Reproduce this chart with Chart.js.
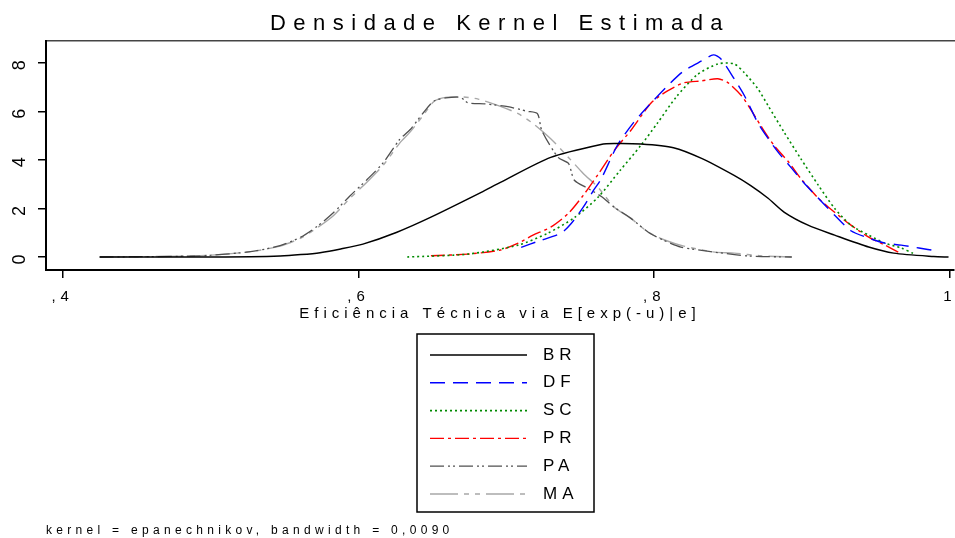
<!DOCTYPE html>
<html><head><meta charset="utf-8">
<script src="https://cdn.jsdelivr.net/npm/chart.js@4/dist/chart.umd.min.js"></script>
<style>html,body{margin:0;padding:0;background:#fff}#wrap{width:955px;height:538px}</style>
</head><body><div id="wrap"><canvas id="c" width="955" height="538"></canvas></div>
<script>
const seriesNames = ['BR','DF','SC','PR','PA','MA'];
const brX = [0.425,0.493,0.527,0.547,0.561,0.574,0.588,0.603,0.626,0.649,0.683,0.696,0.730,0.764,0.773,0.791,0.813,0.832,0.854,0.865,0.877,0.888,0.904,0.922,0.945,0.962,0.989,0.999];
const brY = [0,0,0.01,0.04,0.10,0.18,0.33,0.53,1.02,1.64,2.66,3.07,4.10,4.63,4.67,4.65,4.50,4.06,3.36,2.95,2.42,1.84,1.31,0.90,0.41,0.16,0.02,0];
const dfX = [0.710,0.723,0.737,0.744,0.752,0.759,0.764,0.775,0.786,0.798,0.809,0.820,0.832,0.840,0.845,0.854,0.861,0.870,0.877,0.884,0.893,0.901,0.911,0.922,0.933,0.945,0.956,0.967,0.979,0.991];
const dfY = [0.40,0.68,0.98,1.39,2.05,2.75,3.20,4.59,5.53,6.35,7.05,7.66,8.07,8.32,8.16,7.34,6.64,5.53,4.88,4.30,3.65,3.07,2.42,1.72,1.08,0.78,0.57,0.49,0.37,0.25];
const scX = [0.633,0.674,0.708,0.728,0.746,0.762,0.777,0.791,0.802,0.815,0.829,0.843,0.854,0.861,0.870,0.877,0.888,0.899,0.911,0.922,0.933,0.945,0.956,0.967,0.975];
const scY = [0,0.12,0.49,0.98,1.62,2.46,3.57,4.60,5.50,6.60,7.50,7.95,7.95,7.58,6.93,6.23,5.12,4.06,2.95,2.00,1.31,0.90,0.57,0.37,0.15];
const prX = [0.649,0.674,0.696,0.708,0.718,0.730,0.742,0.752,0.762,0.773,0.784,0.798,0.809,0.820,0.832,0.843,0.850,0.859,0.865,0.872,0.881,0.891,0.899,0.911,0.922,0.933,0.945,0.956,0.965];
const prY = [0.05,0.12,0.29,0.57,0.90,1.23,1.80,2.54,3.40,4.39,5.20,6.35,6.84,7.17,7.25,7.34,7.17,6.64,6.10,5.41,4.59,3.90,3.24,2.42,1.84,1.31,0.82,0.49,0.20];
const paX = [0.425,0.493,0.527,0.547,0.561,0.572,0.583,0.594,0.606,0.617,0.628,0.635,0.644,0.651,0.659,0.669,0.674,0.686,0.701,0.714,0.721,0.724,0.735,0.742,0.746,0.755,0.764,0.773,0.784,0.796,0.806,0.818,0.841,0.864,0.893];
const paY = [0,0.05,0.22,0.47,0.82,1.26,1.82,2.50,3.20,3.90,4.85,5.25,5.95,6.42,6.55,6.57,6.35,6.30,6.19,6.00,5.90,5.20,4.10,3.85,3.16,2.83,2.50,2.05,1.60,1.02,0.70,0.41,0.20,0.04,0];
const maX = [0.425,0.493,0.527,0.547,0.561,0.572,0.583,0.594,0.606,0.617,0.628,0.635,0.644,0.651,0.659,0.669,0.681,0.696,0.708,0.718,0.730,0.742,0.752,0.762,0.773,0.784,0.796,0.807,0.820,0.841,0.854,0.872,0.893];
const maY = [0,0.05,0.22,0.45,0.78,1.20,1.70,2.40,3.10,3.80,4.70,5.15,5.85,6.40,6.57,6.60,6.50,6.20,5.90,5.50,4.87,4.10,3.44,2.87,2.05,1.60,1.02,0.70,0.45,0.20,0.16,0.05,0];
const xTickValues = [0.4,0.6,0.8,1.0];
const xTickLabels = [',4',',6',',8','1'];
const yTickValues = [0,2,4,6,8];
const yTickLabels = ['0','2','4','6','8'];
const titleText = 'Densidade Kernel Estimada';
const xTitleText = 'Eficiência Técnica via E[exp(-u)|e]';
const noteText = 'kernel = epanechnikov, bandwidth = 0,0090';

const FONT = '"Liberation Sans", Arial, sans-serif';
const seriesX = [brX, dfX, scX, prX, paX, maX];
const seriesY = [brY, dfY, scY, prY, paY, maY];
const colors = ['#000000','#0000ff','#008a00','#ff0000','#505050','#a8a8a8'];
const dashes = [[], [15,8], [2,3], [14,4,3,4], [14,4,2,3,2,4], [28,6,5,6,5,6]];
const widths = [1.5,1.4,1.6,1.4,1.3,1.4];

const datasets = seriesNames.map((n, i) => ({
  label: n,
  data: seriesX[i].map((x, j) => ({x: x, y: seriesY[i][j]})),
  borderColor: colors[i],
  borderDash: dashes[i],
  borderWidth: widths[i],
  pointRadius: 0,
  tension: 0.25,
  fill: false
}));

function wrapSpacing(chart, box, sp) {
  if (!box || box._wrapped) return;
  const orig = box.draw.bind(box);
  box.draw = function(a) { const c = chart.ctx; c.save(); c.letterSpacing = sp; orig(a); c.restore(); };
  box._wrapped = true;
}

const spacingPlugin = {
  id: 'spacing',
  beforeDraw(chart) {
    chart.ctx.letterSpacing = '5px';
    wrapSpacing(chart, chart.titleBlock, '7.5px');
    const sub = chart.boxes.find(b => b !== chart.titleBlock && b.options && b.options.text === noteText);
    wrapSpacing(chart, sub, '4.3px');
  }
};

const legendPlugin = {
  id: 'boxLegend',
  afterDraw(chart) {
    const ctx = chart.ctx;
    ctx.save();
    ctx.letterSpacing = '5px';
    ctx.setLineDash([]);
    ctx.strokeStyle = '#000';
    ctx.lineWidth = 1.5;
    ctx.strokeRect(417, 334, 177, 178);
    chart.data.datasets.forEach((ds, i) => {
      const y = 355 + i * 27.8;
      ctx.beginPath();
      ctx.setLineDash(ds.borderDash || []);
      ctx.strokeStyle = ds.borderColor;
      ctx.lineWidth = ds.borderWidth;
      ctx.moveTo(430, y); ctx.lineTo(527, y);
      ctx.stroke();
      ctx.setLineDash([]);
      ctx.fillStyle = '#000';
      ctx.font = '17px ' + FONT;
      ctx.textBaseline = 'middle';
      ctx.textAlign = 'left';
      ctx.fillText(ds.label, 543, y);
    });
    ctx.restore();
  }
};

new Chart(document.getElementById('c'), {
  type: 'line',
  data: { datasets: datasets },
  plugins: [spacingPlugin, legendPlugin],
  options: {
    responsive: false,
    devicePixelRatio: 1,
    animation: false,
    layout: { padding: { left: 0, right: 1, top: 0, bottom: 0 } },
    plugins: {
      legend: { display: false },
      tooltip: { enabled: false },
      title: { display: true, text: titleText, color: '#000', fullSize: false,
        font: { family: FONT, size: 22, weight: 'normal' }, padding: { top: 11, bottom: 3.6 } },
      subtitle: { display: true, text: noteText, color: '#000', position: 'bottom', align: 'start', fullSize: false,
        font: { family: FONT, size: 12, weight: 'normal' }, padding: { top: 0, bottom: 0 } }
    },
    scales: {
      x: {
        type: 'linear', position: 'bottom', min: 0.3887, max: 1.0027,
        afterBuildTicks: (s) => { s.ticks = xTickValues.map(v => ({ value: v })); },
        afterFit: (s) => { s.height = 253.6; s.paddingLeft = 0; s.paddingRight = 0; },
        ticks: { color: '#000', font: { family: FONT, size: 15 }, padding: 10, maxRotation: 0,
          callback: (v, i) => xTickLabels[i] },
        grid: { display: true, drawOnChartArea: false, drawTicks: true, tickLength: 8, color: '#000', lineWidth: 1.5 },
        border: { display: true, color: '#000', width: 2 },
        title: { display: true, text: xTitleText, color: '#000', font: { family: FONT, size: 15 }, padding: { top: 0, bottom: 200.9 } }
      },
      x2: {
        type: 'linear', position: 'top', min: 0.3887, max: 1.0027,
        afterFit: (s) => { s.height = 0; s.paddingLeft = 0; s.paddingRight = 0; },
        ticks: { display: false },
        grid: { display: false, drawTicks: false },
        border: { display: true, color: '#444', width: 1.5 }
      },
      y: {
        type: 'linear', position: 'left', min: -0.535, max: 8.893,
        afterBuildTicks: (s) => { s.ticks = yTickValues.map(v => ({ value: v })); },
        afterFit: (s) => { s.width = 46; s.paddingTop = 0; s.paddingBottom = 0; },
        ticks: { color: '#000', font: { family: FONT, size: 18 }, padding: 13, minRotation: 90, maxRotation: 90,
          crossAlign: 'center', callback: (v, i) => yTickLabels[i] },
        grid: { display: true, drawOnChartArea: false, drawTicks: true, tickLength: 8, color: '#000', lineWidth: 1.5 },
        border: { display: true, color: '#000', width: 2 }
      }
    }
  }
});
</script>
</body></html>
